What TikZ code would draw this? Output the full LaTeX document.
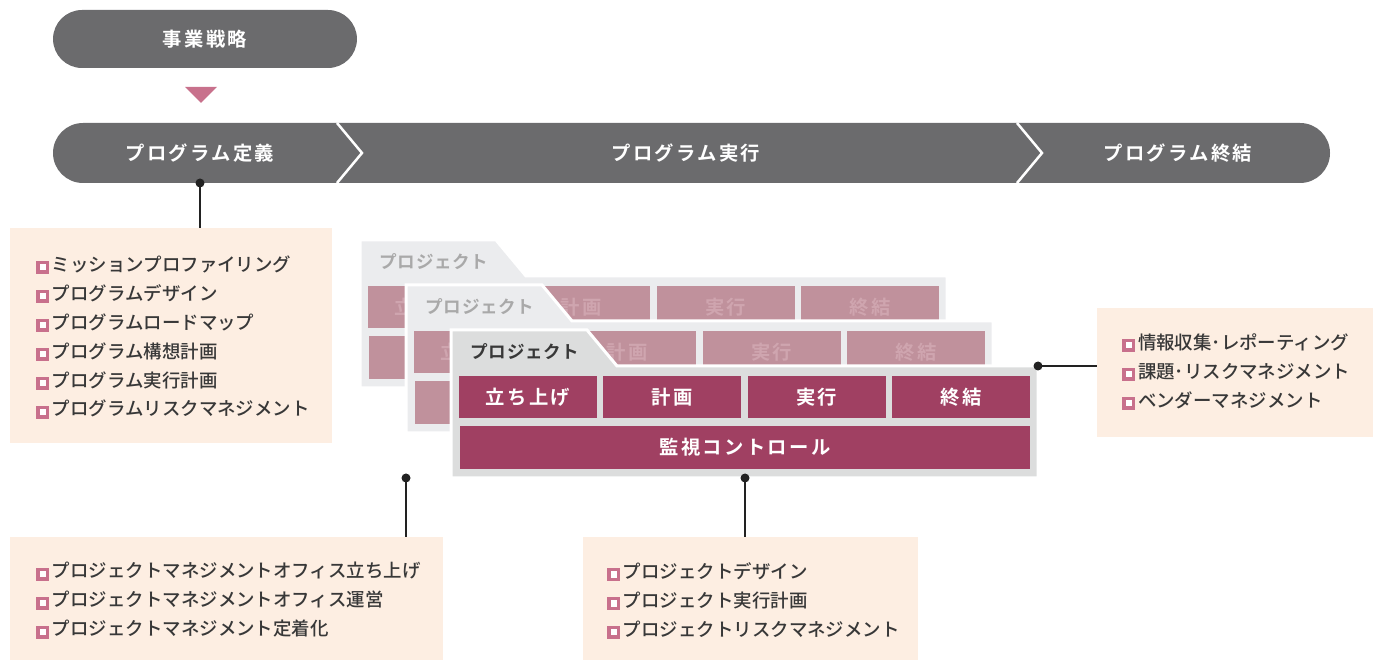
\documentclass[tikz,border=0pt]{standalone}
\usepackage{fontspec}
\setmainfont{Noto Sans CJK JP}[UprightFont=* Medium,BoldFont=* Bold]
\newfontfamily\widefont{Noto Sans CJK JP}[LetterSpace=12,UprightFont=* Medium,BoldFont=* Bold]
\newfontfamily\tabfont{Noto Sans CJK JP}[LetterSpace=4,UprightFont=* Medium,BoldFont=* Bold]
\usetikzlibrary{positioning}
\definecolor{bargray}{HTML}{6B6B6D}
\definecolor{arrowpink}{HTML}{C8718C}
\definecolor{bulletc}{HTML}{C8708C}
\definecolor{boxfill}{HTML}{FDEEE2}
\definecolor{txtdark}{HTML}{383838}
\definecolor{cardback}{HTML}{EBECEE}
\definecolor{cardfront}{HTML}{DCDDDD}
\definecolor{cellback}{HTML}{C0919C}
\definecolor{cellbacktxt}{HTML}{CFA5AF}
\definecolor{cellfront}{HTML}{A04062}
\definecolor{tabbacktxt}{HTML}{A9A9A9}
\definecolor{leadc}{HTML}{222222}
\newcommand\bul{\raisebox{0.4pt}{\setlength\fboxsep{0pt}\setlength\fboxrule{1.9pt}\fcolorbox{bulletc}{white}{\rule{0pt}{3.6pt}\rule{3.6pt}{0pt}}}\hspace{1.5pt}}
\tikzset{
  bold label/.style={text=white,font=\widefont\bfseries\fontsize{11}{13}\selectfont},
  infobox/.style={fill=boxfill,anchor=north west,inner sep=0pt},
  listtext/.style={anchor=north west,inner sep=0pt,align=left,text=txtdark,font=\fontsize{10.5}{16.5}\selectfont},
  lead/.style={leadc,line width=0.9pt},
  dot/.style={fill=leadc}
}
\begin{document}
\begin{tikzpicture}[x=0.02cm,y=-0.02cm]
\useasboundingbox (0,0) rectangle (1373,661);
%Geschaeftsstrategie oben
\node[bold label,fill=bargray,rounded corners=0.58cm,minimum width=6.08cm,minimum height=1.16cm] (strat) at (205,39) {事業戦略};
\fill[arrowpink] (185,87) -- (217,87) -- (201,103) -- cycle;
%Phasenbalken
\fill[bargray,rounded corners=0.6cm] (53,123) rectangle (1330,183);
\draw[white,line width=0.05cm] (337,123) -- (362,153) -- (337,183);
\draw[white,line width=0.05cm] (1017,123) -- (1042,153) -- (1017,183);
\node[bold label] (def) at (200,153) {プログラム定義};
\node[bold label] (run) at (686,153) {プログラム実行};
\node[bold label] (fin) at (1178,153) {プログラム終結};
%Projektkarten, hintere zuerst
\foreach \c/\ox/\oy/\cardc/\cellc/\cellt/\tabt in {1/360/240/cardback/cellback/cellbacktxt/tabbacktxt,
    2/406/285/cardback/cellback/cellbacktxt/tabbacktxt,
    3/451/330/cardfront/cellfront/white/txtdark}{
  \filldraw[fill=\cardc,draw=white,line width=0.06cm] (\ox,\oy) -- (\ox+136,\oy) -- (\ox+166,\oy+36) -- (\ox+587,\oy+36) -- (\ox+587,\oy+148) -- (\ox,\oy+148) -- cycle;
  \node[text=\tabt,font=\tabfont\bfseries\fontsize{10}{12}\selectfont] (tab\c) at (\ox+74,\oy+22) {プロジェクト};
  \foreach \lab [count=\j from 0] in {立ち上げ,計画,実行,終結}{
    \node[fill=\cellc,text=\cellt,font=\widefont\bfseries\fontsize{11}{13}\selectfont,minimum width=2.76cm,minimum height=0.84cm,inner sep=0pt] (cell\c-\j) at (\ox+77+\j*144.3,\oy+67) {\lab};
  }
  \node[fill=\cellc,text=\cellt,font=\widefont\bfseries\fontsize{11}{13}\selectfont,minimum width=11.42cm,minimum height=0.86cm,inner sep=0pt] (ctrl\c) at (\ox+294,\oy+117.5) {監視コントロール};
}
%Infoboxen
\node[infobox,minimum width=6.44cm,minimum height=4.3cm] (box1) at (10,228) {};
\node[infobox,minimum width=8.66cm,minimum height=2.46cm] (box2) at (10,537) {};
\node[infobox,minimum width=6.7cm,minimum height=2.46cm] (box3) at (583,537) {};
\node[infobox,minimum width=5.52cm,minimum height=2.58cm] (box4) at (1097,308) {};
\node[listtext] (list1) at (36,255) {\bul ミッションプロファイリング\\\bul プログラムデザイン\\\bul プログラムロードマップ\\\bul プログラム構想計画\\\bul プログラム実行計画\\\bul プログラムリスクマネジメント};
\node[listtext] (list2) at (36,562) {\bul プロジェクトマネジメントオフィス立ち上げ\\\bul プロジェクトマネジメントオフィス運営\\\bul プロジェクトマネジメント定着化};
\node[listtext] (list3) at (607,562) {\bul プロジェクトデザイン\\\bul プロジェクト実行計画\\\bul プロジェクトリスクマネジメント};
\node[listtext] (list4) at (1122,333) {\bul 情報収集･レポーティング\\\bul 課題･リスクマネジメント\\\bul ベンダーマネジメント};
%Verbindungen
\coordinate (d1) at (200,183);
\coordinate (d2) at (406,478);
\coordinate (d3) at (745,478);
\coordinate (d4) at (1038,366);
\draw[lead] (d1) -- (d1 |- box1.north);
\draw[lead] (d2) -- (d2 |- box2.north);
\draw[lead] (d3) -- (d3 |- box3.north);
\draw[lead] (d4) -- (d4 -| box4.west);
\foreach \d in {d1,d2,d3,d4}
  \fill[dot] (\d) circle[radius=0.09cm];
\end{tikzpicture}
\end{document}
